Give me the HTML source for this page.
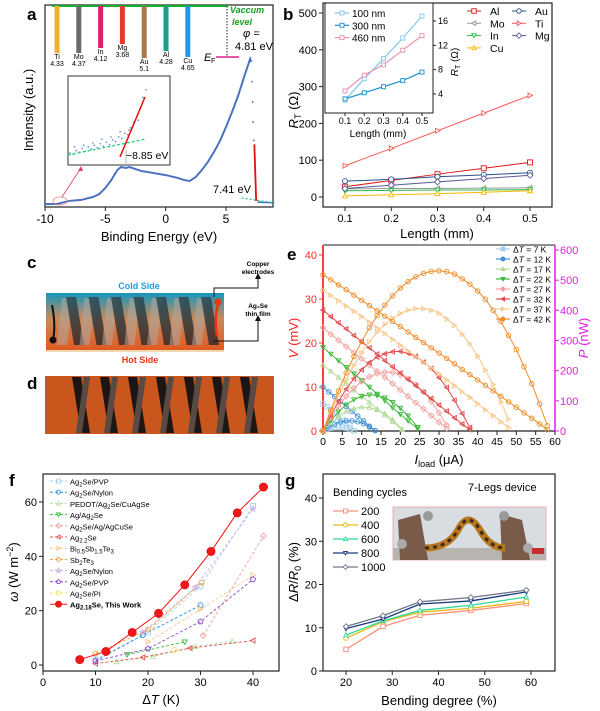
<!DOCTYPE html>
<html><head><meta charset="utf-8"><style>
html,body{margin:0;padding:0;background:#fff}
svg{display:block;font-family:"Liberation Sans",Arial,sans-serif}
</style></head><body>
<svg id="fig" xmlns="http://www.w3.org/2000/svg" width="600" height="711" viewBox="0 0 600 711">
<defs>
<linearGradient id="gc" x1="0" y1="0" x2="0" y2="1"><stop offset="0" stop-color="#1597bd"/><stop offset="0.45" stop-color="#c98a5a"/><stop offset="1" stop-color="#e05a22"/></linearGradient>
<linearGradient id="leg" x1="0" y1="0" x2="0" y2="1"><stop offset="0" stop-color="#2a4a55"/><stop offset="1" stop-color="#3a2a25"/></linearGradient>
</defs>
<!-- panel letters -->
<text x="27" y="20" font-size="17" font-weight="bold">a</text>
<text x="283" y="20" font-size="17" font-weight="bold">b</text>
<text x="27" y="268" font-size="17" font-weight="bold">c</text>
<text x="27" y="389" font-size="17" font-weight="bold">d</text>
<text x="287" y="260" font-size="17" font-weight="bold">e</text>
<text x="9" y="486" font-size="17" font-weight="bold">f</text>
<text x="285" y="486" font-size="17" font-weight="bold">g</text>

<!-- panel c schematic -->
<g>
<rect x="46" y="293" width="178" height="57" fill="url(#gc)"/>
<rect x="46" y="350" width="178" height="2" fill="#f0d8b0"/>
<g id="cLegs"></g>
<path d="M52 305 Q56 325 53 340" stroke="#111" stroke-width="2" fill="none"/>
<circle cx="53" cy="340" r="3.5" fill="#111"/>
<path d="M218 303 Q214 320 217 336" stroke="#e31" stroke-width="2.5" fill="none"/>
<circle cx="218" cy="302" r="3.5" fill="#e31"/>
<polyline points="214,297 214,288 258,288 258,278" fill="none" stroke="#111" stroke-width="1"/>
<polygon points="255,279 258,273 261,279" fill="#111"/>
<polyline points="213,341 258,341 258,320" fill="none" stroke="#111" stroke-width="1"/>
<polygon points="255,321 258,315 261,321" fill="#111"/>
<text x="139" y="289" font-size="9" font-weight="bold" fill="#1a9fe0" text-anchor="middle">Cold Side</text>
<text x="140" y="363" font-size="9" font-weight="bold" fill="#e31" text-anchor="middle">Hot Side</text>
<text x="258" y="266" font-size="6.5" font-weight="bold" text-anchor="middle">Copper</text>
<text x="258" y="274" font-size="6.5" font-weight="bold" text-anchor="middle">electrodes</text>
<text x="258" y="308" font-size="6.5" font-weight="bold" text-anchor="middle">Ag₂Se</text>
<text x="258" y="316" font-size="6.5" font-weight="bold" text-anchor="middle">thin film</text>
</g>
<!-- panel d photo -->
<g>
<rect x="45" y="376" width="229" height="58" fill="#c9561c"/>
<g id="dLegs"></g>
</g>

<!-- panel g inset photo -->
<g>
<rect x="393" y="507" width="153" height="53" fill="#d8dde2" stroke="#e8a0a0" stroke-width="0.8"/>
<rect x="393" y="548" width="153" height="12" fill="#b8b4b0"/>
<polygon points="398,520 420,514 428,560 400,560" fill="#7a5a48"/>
<polygon points="500,514 522,520 530,560 502,560" fill="#7a5a48"/>
<path d="M425 548 Q448 548 458 530 Q468 510 480 530 Q490 548 505 548" stroke="#b87820" stroke-width="7" fill="none"/>
<path d="M425 548 Q448 548 458 530 Q468 510 480 530 Q490 548 505 548" stroke="#3a2a18" stroke-width="3" stroke-dasharray="4 4" fill="none"/>
<circle cx="428" cy="516" r="5" fill="#999"/><circle cx="504" cy="516" r="5" fill="#999"/>
<circle cx="402" cy="544" r="5" fill="#aaa"/><circle cx="528" cy="548" r="5" fill="#aaa"/>
<rect x="532" y="548" width="12" height="6" fill="#c03030"/>
</g>
</svg>
<script>
const NS='http://www.w3.org/2000/svg';
const svg=document.getElementById('fig');
function mk(tag,attrs,parent){const e=document.createElementNS(NS,tag);for(const k in attrs)e.setAttribute(k,attrs[k]);(parent||svg).appendChild(e);return e;}
function txt(s,x,y,o,parent){const e=mk('text',Object.assign({x:x,y:y,'font-size':11},o||{}),parent);e.textContent=s;return e;}
function lin(d0,d1,r0,r1){return v=>r0+(v-d0)/(d1-d0)*(r1-r0);}
function marker(shape,x,y,s,stroke,fill,parent){
  let e;const h=s/2;
  if(shape==='circle')e=mk('circle',{cx:x,cy:y,r:h},parent);
  else if(shape==='square')e=mk('rect',{x:x-h,y:y-h,width:s,height:s},parent);
  else{let p;
    if(shape==='up')p=[[0,-h],[h,h*0.8],[-h,h*0.8]];
    else if(shape==='down')p=[[0,h],[h,-h*0.8],[-h,-h*0.8]];
    else if(shape==='left')p=[[-h,0],[h*0.8,-h],[h*0.8,h]];
    else if(shape==='right')p=[[h,0],[-h*0.8,-h],[-h*0.8,h]];
    else if(shape==='diamond')p=[[0,-h*1.2],[h*1.2,0],[0,h*1.2],[-h*1.2,0]];
    else if(shape==='pentagon'){p=[];for(let i=0;i<5;i++){const a=-Math.PI/2+i*2*Math.PI/5;p.push([h*1.1*Math.cos(a),h*1.1*Math.sin(a)]);}}
    else {p=[];for(let i=0;i<10;i++){const a=-Math.PI/2+i*Math.PI/5,r=i%2?h*0.5:h*1.2;p.push([r*Math.cos(a),r*Math.sin(a)]);}}
    e=mk('polygon',{points:p.map(q=>(x+q[0])+','+(y+q[1])).join(' ')},parent);}
  e.setAttribute('fill',fill);e.setAttribute('stroke',stroke);e.setAttribute('stroke-width',0.9);
  return e;
}
function frame(x0,y0,x1,y1,name){const r=mk('rect',{x:x0,y:y0,width:x1-x0,height:y1-y0,fill:'none',stroke:'#222','stroke-width':1.2});return r;}

/* ---------- panel c/d legs ---------- */
const cLegIdx=[0,1,2,3,4,5,6];
const cg=document.getElementById('cLegs');
cLegIdx.forEach(i=>{const x=64+i*22.5;
  const l=mk('polygon',{points:`${x-2},298 ${x+8},298 ${x+3},345 ${x-7},345`,fill:'#b0a8a0',opacity:0.55},cg);
  const d=mk('polygon',{points:`${x+2},297 ${x+12},297 ${x+20},345 ${x+10},345`,fill:'url(#leg)',opacity:0.85},cg);
  });
const dg=document.getElementById('dLegs');
cLegIdx.forEach(i=>{const x=72+i*28;
  mk('polygon',{points:`${x},377 ${x+9},377 ${x+18},433 ${x+9},433`,fill:'#1e1614'},dg);
  const e=mk('polygon',{points:`${x+12},377 ${x+18},377 ${x+10},433 ${x+4},433`,fill:'#5a4a44'},dg);
  });

/* ---------- panel a ---------- */
const aEnergy=[-10,-9,-8,-7,-6,-5.5,-5,-4.5,-4,-3.7,-3.3,-3,-2.5,-2,-1,0,1,1.5,2,2.5,3,3.5,4,4.5,5,5.5,6,6.5,6.8,7.0,7.1];
const aIntensity=[1.5,1.5,3,3.5,5,6.4,9.4,13.4,18.3,19.8,19.3,19.8,18.8,17.8,16.8,15.8,14.4,13.4,12.9,14.9,18.3,22.3,27.2,32.7,39.6,47,55,64.4,69.8,73.3,71.8];
const aDropE=[7.15,7.2,7.25,7.3,7.35];
const aDropI=[62,52,42,33,30];
const aTailE=[7.6,8,8.5,9];
const aTailI=[2.5,2.3,2.2,2];
const aTicks=[-10,-5,0,5];
const metals=['Ti','Mo','In','Mg','Au','Al','Cu'];
const metalPhi=['4.33','4.37','4.12','3.68','5.1','4.28','4.65'];
const metalBarLen=[47,47,42,38,52,45,51];
const metalColors=['#f6b02c','#6b6b6b','#e0206f','#e33a2c','#a87a45','#1aa08a','#1e9be8'];
const AX=lin(-10,5,45,226),AY=lin(0,100,207,5);
frame(45,5,273,207,'plot-frame-a');
aTicks.forEach(t=>{mk('line',{x1:AX(t),x2:AX(t),y1:207,y2:211,stroke:'#222'});
  const e=txt(String(t).replace('-','-'),AX(t),223,{'text-anchor':'middle','font-size':12});});
let e=txt('Binding Energy (eV)',159,241,{'text-anchor':'middle','font-size':13});
e=txt('Intensity (a.u.)',0,0,{'text-anchor':'middle','font-size':13,transform:'translate(33,110) rotate(-90)'});
e=mk('polyline',{points:aEnergy.map((v,i)=>AX(v)+','+AY(aIntensity[i])).join(' '),fill:'none',stroke:'#4a72c0','stroke-width':2});
aDropE.forEach((v,i)=>{const d=mk('circle',{cx:AX(v),cy:AY(aDropI[i]),r:0.9,fill:'#4a72c0'});});
e=mk('polyline',{points:aTailE.map((v,i)=>AX(v)+','+AY(aTailI[i])).join(' '),fill:'none',stroke:'#4a72c0','stroke-width':1.5});
e=mk('line',{x1:AX(7.35),y1:AY(31),x2:AX(7.5),y2:AY(3),stroke:'#e01010','stroke-width':1.8});
e=mk('line',{x1:AX(6.3),y1:AY(4.5),x2:AX(9),y2:AY(2),stroke:'#20c080','stroke-width':1.2,'stroke-dasharray':'2 2'});
e=txt('7.41 eV',213,193,{'font-size':11});
// vacuum level
e=mk('line',{x1:52,x2:228,y1:6,y2:6,stroke:'#10b030','stroke-width':2});
metals.forEach((m,i)=>{const x=57+i*21.8;
  const b=mk('rect',{x:x-2.5,y:6,width:5,height:metalBarLen[i],fill:metalColors[i]});
  const y=6+metalBarLen[i];
  let t=txt(m,x,y+6,{'text-anchor':'middle','font-size':7});
  t=txt(metalPhi[i],x,y+13,{'text-anchor':'middle','font-size':7});});
mk('line',{x1:227,x2:227,y1:6,y2:57,stroke:'#222','stroke-dasharray':'1.5 1.5'});
e=mk('line',{x1:216,x2:239,y1:57,y2:57,stroke:'#e0208a','stroke-width':1.5});
e=txt('E',204,61,{'font-size':11,'font-style':'italic'});
txt('F',211,63,{'font-size':7});
e=txt('Vaccum',230,13,{'font-size':9,'font-style':'italic','font-weight':'bold',fill:'#10a020'});
txt('level',232,25,{'font-size':9,'font-style':'italic','font-weight':'bold',fill:'#10a020'});
e=txt('φ =',243,37,{'font-size':11,'font-style':'italic'});
txt('4.81 eV',235,50,{'font-size':11});
// inset a
const insEnergy=[0,4,8,12,16,20,24,28,32,36,40,44,48,52,56,60,64,68,72,76,80,84,88,92,96,100,6,18,30,42,54,66,78,90];
const insIntensity=[12,10,15,13,18,14,20,17,22,19,24,21,26,23,29,27,33,31,38,36,45,52,60,70,85,95,20,22,25,30,33,40,42,55];
e=mk('rect',{x:68,y:76,width:102,height:89,fill:'#fff',stroke:'#333','stroke-width':1});
const IX=lin(0,100,70,146),IY=lin(0,100,162,86);
insEnergy.forEach((v,i)=>{const d=mk('circle',{cx:IX(v),cy:IY(insIntensity[i]),r:0.8,fill:'#5a80d0'});});
mk('line',{x1:68,y1:155,x2:146,y2:139,stroke:'#20d080','stroke-width':1.3,'stroke-dasharray':'3 2'});
mk('line',{x1:120,y1:157,x2:145,y2:97,stroke:'#e01010','stroke-width':1.5});
mk('line',{x1:126,y1:150,x2:126,y2:165,stroke:'#aaa','stroke-width':0.8});
e=txt('−8.85 eV',126,159,{'font-size':10.5});
mk('ellipse',{cx:60,cy:201,rx:7,ry:4,fill:'none',stroke:'#f08080','stroke-width':0.8});
mk('line',{x1:62,y1:197,x2:81,y2:168,stroke:'#e04060','stroke-width':0.8});
mk('polygon',{points:'81,166 78,171 83,171',fill:'#e04060'});

/* ---------- panel b ---------- */
const bLength=[0.1,0.2,0.3,0.4,0.5];
const bNames=['Al','Au','Mo','Ti','In','Mg','Cu'];
const bColors=['#e01818','#2a508a','#999999','#ff5a5a','#28b848','#5a5a9a','#ffb800'];
const bShapes=['square','circle','left','right','down','diamond','up'];
const bAl=[28,45,62,78,94];
const bAu=[43,48,55,60,66];
const bMo=[22,23,23,24,25];
const bTi=[85,132,180,228,276];
const bIn=[17,18,19,19,20];
const bMg=[23,32,41,50,59];
const bCu=[3,6,9,13,17];
const bSeries=[bAl,bAu,bMo,bTi,bIn,bMg,bCu];
const bYTicks=[0,100,200,300,400,500];
const BX=lin(0.1,0.5,345,530),BY=lin(0,500,197,13);
frame(323,3,552,207,'plot-frame-b');
bYTicks.forEach(t=>{mk('line',{x1:319,x2:323,y1:BY(t),y2:BY(t),stroke:'#222'});const k=txt(t,317,BY(t)+4,{'text-anchor':'end','font-size':11});});
bLength.forEach(t=>{mk('line',{x1:BX(t),x2:BX(t),y1:207,y2:211,stroke:'#222'});const k=txt(t,BX(t),222,{'text-anchor':'middle','font-size':11});});
e=txt('Length (mm)',437,238,{'text-anchor':'middle','font-size':13});
e=mk('text',{transform:'translate(298,110) rotate(-90)','text-anchor':'middle','font-size':13});e.innerHTML='<tspan font-style="italic">R</tspan><tspan font-size="9" dy="3">T</tspan><tspan dy="-3"> (Ω)</tspan>';
bSeries.forEach((s,i)=>{const l=mk('polyline',{points:s.map((v,j)=>BX(bLength[j])+','+BY(v)).join(' '),fill:'none',stroke:bColors[i],'stroke-width':1});
  s.forEach((v,j)=>{const m=marker(bShapes[i],BX(bLength[j]),BY(v),5,bColors[i],'#fff');});
  const col=i%2,row=Math.floor(i/2);const lx=col?512:467,ly=11+row*12.3;
  mk('line',{x1:lx,x2:lx+14,y1:ly,y2:ly,stroke:bColors[i]});marker(bShapes[i],lx+7,ly,4.5,bColors[i],'#fff');
  const t=txt(bNames[i],lx+23,ly+4,{'font-size':10.5});});
// inset b
const biThick=['100 nm','300 nm','460 nm'];
const biColors=['#80c8f0','#1890d0','#e890b0'];
const bi100=[3,6.5,9.8,13.2,16.8];
const bi300=[3.2,4.2,5.2,6.2,7.6];
const bi460=[4.5,7.1,8.8,11.2,13.6];
const biSeries=[bi100,bi300,bi460];
const biTicks=[4,8,12,16];
e=mk('rect',{x:325,y:3,width:108,height:110,fill:'#fff',stroke:'#222','stroke-width':1});
const BIX=lin(0.1,0.5,345,422),BIY=lin(4,16,94,21);
bLength.forEach(t=>{mk('line',{x1:BIX(t),x2:BIX(t),y1:113,y2:116,stroke:'#222'});const k=txt(t,BIX(t),124,{'text-anchor':'middle','font-size':9});});
biTicks.forEach(t=>{mk('line',{x1:433,x2:436,y1:BIY(t),y2:BIY(t),stroke:'#222'});const k=txt(t,438,BIY(t)+3,{'font-size':9});});
e=txt('Length (mm)',378,137,{'text-anchor':'middle','font-size':10});
e=mk('text',{transform:'translate(458,62) rotate(-90)','text-anchor':'middle','font-size':10});e.innerHTML='<tspan font-style="italic">R</tspan><tspan font-size="7" dy="2">T</tspan><tspan dy="-2"> (Ω)</tspan>';
biSeries.forEach((s,i)=>{const l=mk('polyline',{points:s.map((v,j)=>BIX(bLength[j])+','+BIY(v)).join(' '),fill:'none',stroke:biColors[i],'stroke-width':1.2});
  s.forEach((v,j)=>{const m=marker('square',BIX(bLength[j]),BIY(v),4,biColors[i],'#fff');});
  const ly=13+i*12.3;mk('line',{x1:335,x2:349,y1:ly,y2:ly,stroke:biColors[i],'stroke-width':1.2});marker('square',342,ly,4,biColors[i],'#fff');
  const t=txt(biThick[i],352,ly+4,{'font-size':10});});

/* ---------- panel e ---------- */
const eNames=['7','12','17','22','27','32','37','42'];
const eColors=['#a8d0ea','#3d8fd6','#b5dc9a','#3cb83c','#f4a0a0','#e04848','#f8c88a','#f08c28'];
const eShapes=['square','circle','up','down','diamond','left','right','circle'];
const eI7=[0,1,2,3,4,5,6,7,8];
const eV7=[6.2,5.5,4.8,4.0,3.2,2.4,1.6,0.8,0.1];
const eI12=[0,1.5,3,4.5,6,7.5,9,10.5,12,13.5];
const eV12=[10,8.9,7.8,6.7,5.6,4.5,3.4,2.3,1.1,0.1];
const eI17=[0,2,4,6,8,10,12,14,16,18,20.5];
const eV17=[15,13.6,12.2,10.8,9.3,7.9,6.5,5.0,3.6,2.1,0.3];
const eI22=[0,2,4,6,8,10,12,14,16,18,20,22,24.5];
const eV22=[19,17.5,16,14.5,13,11.5,10,8.4,6.9,5.3,3.8,2.3,0.5];
const eI27=[0,2,4,6,8,10,12,14,16,18,20,22,24,26,28,30,32];
const eV27=[23.5,22,20.6,19.2,17.8,16.4,15,13.6,12.2,10.8,9.3,7.9,6.4,5,3.5,2,0.6];
const eI32=[0,2,4,6,8,10,12,14,16,18,20,22,24,26,28,30,32,34,36,38];
const eV32=[27.5,26,24.6,23.2,21.7,20.3,18.9,17.5,16,14.6,13.2,11.7,10.3,8.8,7.4,5.9,4.5,3,1.6,0.3];
const eI37=[0,2,4,6,8,10,12,14,16,18,20,22,24,26,28,30,32,34,36,38,40,42,44,46,48];
const eV37=[32,30.8,29.6,28.4,27.2,26,24.7,23.4,22.1,20.8,19.5,18.2,16.9,15.6,14.3,13,11.6,10.3,8.9,7.6,6.2,4.8,3.5,2.1,0.8];
const eI42=[0,2,4,6,8,10,12,14,16,18,20,22,24,26,28,30,32,34,36,38,40,42,44,46,48,50,52,54,56,58];
const eV42=[35.5,34.4,33.2,32.1,30.9,29.7,28.5,27.3,26.1,24.9,23.7,22.5,21.3,20.1,18.9,17.7,16.5,15.3,14,12.8,11.6,10.4,9.1,7.9,6.6,5.4,4.1,2.9,1.6,0.3];
const eIs=[eI7,eI12,eI17,eI22,eI27,eI32,eI37,eI42];
const eVs=[eV7,eV12,eV17,eV22,eV27,eV32,eV37,eV42];
const eXTicks=[0,5,10,15,20,25,30,35,40,45,50,55,60];
const eVTicks=[0,10,20,30,40];
const ePTicks=[0,100,200,300,400,500,600];
const EX=lin(0,60,323,555),EY=lin(0,40,431,255),EP=lin(0,600,431,250);
e=mk('line',{x1:323,x2:555,y1:245,y2:245,stroke:'#222'});
mk('line',{x1:323,x2:555,y1:431,y2:431,stroke:'#222','stroke-width':1.2});
e=mk('line',{x1:323,x2:323,y1:245,y2:431,stroke:'#ff4040','stroke-width':2});
e=mk('line',{x1:555,x2:555,y1:245,y2:431,stroke:'#e020e0','stroke-width':1.5});
eXTicks.forEach(t=>{mk('line',{x1:EX(t),x2:EX(t),y1:431,y2:435,stroke:'#222'});const k=txt(t,EX(t),445,{'text-anchor':'middle','font-size':10.5});});
eVTicks.forEach(t=>{mk('line',{x1:319,x2:323,y1:EY(t),y2:EY(t),stroke:'#ff4040'});const k=txt(t,317,EY(t)+4,{'text-anchor':'end','font-size':11,fill:'#ff3030'});});
ePTicks.forEach(t=>{mk('line',{x1:555,x2:559,y1:EP(t),y2:EP(t),stroke:'#e020e0'});const k=txt(t,560,EP(t)+4,{'font-size':11,fill:'#e020e0'});});
e=mk('text',{x:439,y:464,'text-anchor':'middle','font-size':13});e.innerHTML='<tspan font-style="italic">I</tspan><tspan font-size="9" dy="3">load</tspan><tspan dy="-3"> (μA)</tspan>';
e=mk('text',{transform:'translate(298,338) rotate(-90)','text-anchor':'middle','font-size':13,fill:'#ff2020'});e.innerHTML='<tspan font-style="italic">V</tspan> (mV)';
e=mk('text',{transform:'translate(588,338) rotate(-90)','text-anchor':'middle','font-size':13,fill:'#e020e0'});e.innerHTML='<tspan font-style="italic">P</tspan> (nW)';
eIs.forEach((I,i)=>{const V=eVs[i];const P=I.map((c,j)=>c*V[j]);
  const l=mk('polyline',{points:I.map((c,j)=>EX(c)+','+EY(V[j])).join(' '),fill:'none',stroke:eColors[i],'stroke-width':1});
  const p=mk('polyline',{points:I.map((c,j)=>EX(c)+','+EP(P[j])).join(' '),fill:'none',stroke:eColors[i],'stroke-width':1});
  I.forEach((c,j)=>{let m=marker(eShapes[i],EX(c),EY(V[j]),4.5,eColors[i],'none');
    m=marker(eShapes[i],EX(c),EP(P[j]),4.5,eColors[i],'none');});
  const ly=249+i*10;mk('line',{x1:496,x2:510,y1:ly,y2:ly,stroke:eColors[i],'stroke-width':1.2});marker(eShapes[i],503,ly,4,eColors[i],eColors[i]);
  const t=mk('text',{x:513,y:ly+3.5,'font-size':8.5});t.innerHTML='Δ<tspan font-style="italic">T</tspan> = '+eNames[i]+' K';});

/* ---------- panel f ---------- */
const fNames=['Ag<tspan font-size="6" dy="2">2</tspan><tspan dy="-2">Se/PVP</tspan>','Ag<tspan font-size="6" dy="2">2</tspan><tspan dy="-2">Se/Nylon</tspan>','PEDOT/Ag<tspan font-size="6" dy="2">2</tspan><tspan dy="-2">Se/CuAgSe</tspan>','Ag/Ag<tspan font-size="6" dy="2">2</tspan><tspan dy="-2">Se</tspan>','Ag<tspan font-size="6" dy="2">2</tspan><tspan dy="-2">Se/Ag/AgCuSe</tspan>','Ag<tspan font-size="6" dy="2">2.2</tspan><tspan dy="-2">Se</tspan>','Bi<tspan font-size="6" dy="2">0.5</tspan><tspan dy="-2">Sb</tspan><tspan font-size="6" dy="2">1.5</tspan><tspan dy="-2">Te</tspan><tspan font-size="6" dy="2">3</tspan>','Sb<tspan font-size="6" dy="2">2</tspan><tspan dy="-2">Te</tspan><tspan font-size="6" dy="2">3</tspan>','Ag<tspan font-size="6" dy="2">2</tspan><tspan dy="-2">Se/Nylon</tspan>','Ag<tspan font-size="6" dy="2">2</tspan><tspan dy="-2">Se/PVP</tspan>','Ag<tspan font-size="6" dy="2">2</tspan><tspan dy="-2">Se/PI</tspan>','Ag<tspan font-size="6" dy="2">2.18</tspan><tspan dy="-2">Se, This Work</tspan>'];
const fColors=['#a8d0f0','#3090e0','#b8e0a0','#38c038','#f4a0a0','#e85050','#f8c890','#f8a040','#c8b0e0','#9050d0','#f8e060','#f01010'];
const fShapes=['square','circle','up','down','diamond','left','right','circle','star','pentagon','circle','circle'];
const fDT=[[10,20,30,40],[10,19,30],[14,21,29,36],[16,27],[30.5,42],[10,19,28,40],[20,30,40],[10,20,30.2],[19,29,40],[10,20,30,40],[25],[7,12,17,22,27,32,37,42]];
const fW=[[2,12,29,58.5],[1.5,11,22],[1.2,3.2,6.8,8.7],[3.8,8.5],[10.8,47.5],[0.5,2.8,6.2,9],[8.5,20.5,33],[4.2,13,30.3],[12,28.5,57.5],[1.5,6,16,31.5],[5.5],[2,5,12,19,29.5,41.8,56,65.5]];
const fXTicks=[0,10,20,30,40];
const fYTicks=[0,20,40,60];
const FX=lin(0,40,43,253),FY=lin(0,60,665,502);
frame(43,474,279,671,'plot-frame-f');
fXTicks.forEach(t=>{mk('line',{x1:FX(t),x2:FX(t),y1:671,y2:675,stroke:'#222'});const k=txt(t,FX(t),686,{'text-anchor':'middle','font-size':11});});
fYTicks.forEach(t=>{mk('line',{x1:39,x2:43,y1:FY(t),y2:FY(t),stroke:'#222'});const k=txt(t,37,FY(t)+4,{'text-anchor':'end','font-size':11});});
e=mk('text',{x:161,y:704,'text-anchor':'middle','font-size':13});e.innerHTML='Δ<tspan font-style="italic">T</tspan> (K)';
e=mk('text',{transform:'translate(18,572) rotate(-90)','text-anchor':'middle','font-size':13});e.innerHTML='<tspan font-style="italic">ω</tspan> (W m<tspan font-size="9" dy="-5">−2</tspan><tspan dy="5">)</tspan>';
fDT.forEach((xs,i)=>{const last=i===11;
  const l=mk('polyline',{points:xs.map((v,j)=>FX(v)+','+FY(fW[i][j])).join(' '),fill:'none',stroke:fColors[i],'stroke-width':last?1:0.9});if(!last)l.setAttribute('stroke-dasharray','3 2');
  xs.forEach((v,j)=>{const m=marker(fShapes[i],FX(v),FY(fW[i][j]),last?8:5,last?'#e01010':fColors[i],last?'#f01818':'none');});
  const ly=481+i*11.2;const ll=mk('line',{x1:50,x2:67,y1:ly,y2:ly,stroke:fColors[i]});if(!last)ll.setAttribute('stroke-dasharray','3 2');
  marker(fShapes[i],58.5,ly,last?6:4,last?'#e01010':fColors[i],last?'#f01818':'none');
  const t=mk('text',{x:70,y:ly+3.5,'font-size':7.5,'font-weight':last?'bold':'normal'});t.innerHTML=fNames[i];});

/* ---------- panel g ---------- */
const gBend=[20,28,36,47,59];
const gCycles=['200','400','600','800','1000'];
const gColors=['#f89078','#e8b818','#30d898','#1a3a80','#707888'];
const gShapes=['square','circle','up','down','diamond'];
const g200=[5,10.3,12.9,14,15.6];
const g400=[7.6,11.4,13.6,14.5,16.1];
const g600=[8.3,11.6,14,15.2,17.1];
const g800=[9.8,12,15.5,16.2,18.3];
const g1000=[10.3,12.8,16,17,18.7];
const gSeries=[g200,g400,g600,g800,g1000];
const gXTicks=[20,30,40,50,60];
const gYTicks=[0,10,20,30,40];
const GX=lin(20,60,346,531),GY=lin(0,40,671,498);
frame(323,474,555,671,'plot-frame-g');
gXTicks.forEach(t=>{mk('line',{x1:GX(t),x2:GX(t),y1:671,y2:675,stroke:'#222'});const k=txt(t,GX(t),686,{'text-anchor':'middle','font-size':11});});
gYTicks.forEach(t=>{mk('line',{x1:319,x2:323,y1:GY(t),y2:GY(t),stroke:'#222'});const k=txt(t,317,GY(t)+4,{'text-anchor':'end','font-size':11});});
e=txt('Bending degree (%)',439,705,{'text-anchor':'middle','font-size':13});
e=mk('text',{transform:'translate(298,572) rotate(-90)','text-anchor':'middle','font-size':13});e.innerHTML='Δ<tspan font-style="italic">R</tspan>/<tspan font-style="italic">R</tspan><tspan font-size="9" dy="3">0</tspan><tspan dy="-3"> (%)</tspan>';
e=txt('7-Legs device',468,491,{'font-size':11});
e=txt('Bending cycles',333,496,{'font-size':11});
gSeries.forEach((s,i)=>{const l=mk('polyline',{points:s.map((v,j)=>GX(gBend[j])+','+GY(v)).join(' '),fill:'none',stroke:gColors[i],'stroke-width':1.3});
  s.forEach((v,j)=>{const m=marker(gShapes[i],GX(gBend[j]),GY(v),4.5,gColors[i],'#fff');});
  const ly=511+i*14;mk('line',{x1:333,x2:358,y1:ly,y2:ly,stroke:gColors[i],'stroke-width':1.3});marker(gShapes[i],345.5,ly,4,gColors[i],'#fff');
  const t=txt(gCycles[i],361,ly+4,{'font-size':11});});
</script>
</body></html>
